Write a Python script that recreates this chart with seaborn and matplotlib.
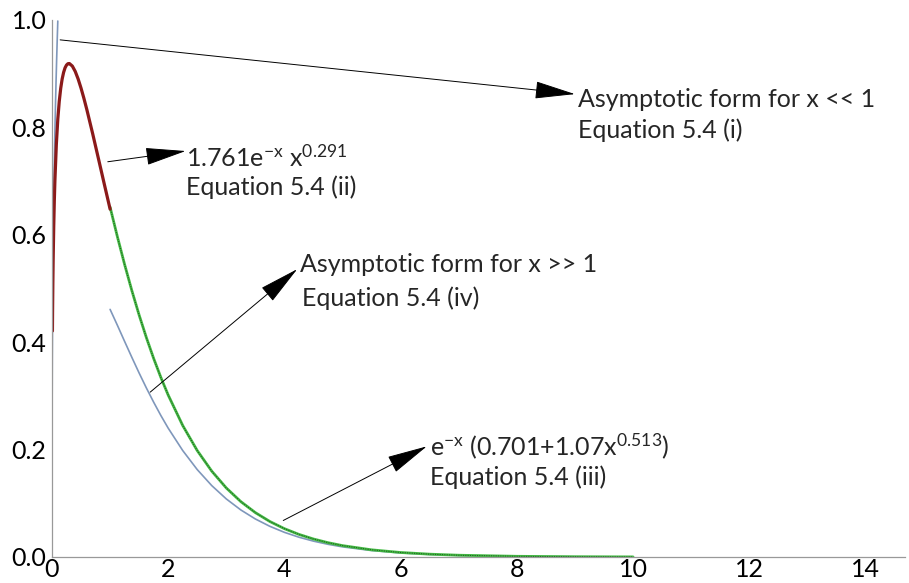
import numpy as np
import pandas as pd
import matplotlib
matplotlib.use("Agg")
import matplotlib.pyplot as plt
from matplotlib.ticker import MultipleLocator
import seaborn as sns

# Small-x asymptote, 2.15 x^(1/3)
x_small = [0.0, 0.0001, 0.0005, 0.001, 0.002, 0.005, 0.01, 0.02, 0.03, 0.04,
           0.05, 0.06, 0.07, 0.08, 0.09, 0.1]
y_small = [0.0, 0.0998, 0.1707, 0.215, 0.2709, 0.3676, 0.4632, 0.5835, 0.6680,
           0.7353, 0.7921, 0.8417, 0.8860, 0.9264, 0.9634, 0.9980]

# Fit for x < 1: 1.761 e^-x x^0.291
x_low = [0.0075, 0.01, 0.015, 0.02, 0.03, 0.04, 0.05, 0.075, 0.1, 0.125,
         0.15, 0.175, 0.2, 0.225, 0.25, 0.275, 0.3, 0.35, 0.4, 0.45, 0.5, 0.55,
         0.6, 0.7, 0.8, 0.9, 1.0]
y_low = [0.4209, 0.4564, 0.5111, 0.5529, 0.6159, 0.6631, 0.7005, 0.7688,
         0.8153, 0.8485, 0.8727, 0.8902, 0.9025, 0.9110, 0.9161, 0.9187, 0.9189,
         0.9142, 0.9042, 0.8901, 0.8730, 0.8538, 0.8330, 0.7883, 0.7415, 0.6944,
         0.6478]

# Fit for x > 1: e^-x (0.701 + 1.07 x^0.513)
x_high = [1.0, 1.125, 1.25, 1.375, 1.5, 1.625, 1.75, 1.875, 2.0, 2.25, 2.5,
          2.75, 3.0, 3.25, 3.5, 3.75, 4.0, 4.25, 4.5, 4.75, 5.0, 5.5, 6.0, 6.5,
          7.0, 8.0, 9.0, 10.0]
y_high = [0.6515, 0.5966, 0.5446, 0.4958, 0.4504, 0.4083, 0.3696, 0.3340,
          0.3015, 0.2448, 0.1981, 0.1598, 0.1285, 0.1031, 0.08261, 0.06606,
          0.05275, 0.04206, 0.03350, 0.02665, 0.02118, 0.01335, 0.008388,
          0.005256, 0.003287, 0.001278, 0.000494, 0.000190]

# Large-x asymptote, sqrt(pi/2) e^-x sqrt(x)
x_large = [1.0, 1.125, 1.25, 1.375, 1.5, 1.625, 1.75, 1.875, 2.0, 2.25, 2.5,
           2.75, 3.0, 3.25, 3.5, 3.75, 4.0, 4.25, 4.5, 4.75, 5.0, 5.5, 6.0,
           6.5, 7.0, 8.0, 9.0, 10.0]
y_large = [0.4611, 0.4316, 0.4014, 0.3716, 0.3425, 0.3146, 0.2882, 0.2632,
           0.2399, 0.1982, 0.1627, 0.1329, 0.1081, 0.08761, 0.07080, 0.05708,
           0.04591, 0.03685, 0.02954, 0.02363, 0.01888, 0.01201, 0.00761,
           0.004804, 0.003024, 0.001189, 0.000464, 0.000180]

x_ticks = [0, 2, 4, 6, 8, 10, 12, 14]
y_ticks = [0.0, 0.2, 0.4, 0.6, 0.8, 1.0]

sns.set_theme(style="white")
plt.rcParams["font.family"] = ["Lato", "DejaVu Sans"]
plt.rcParams["mathtext.fontset"] = "custom"
plt.rcParams["mathtext.rm"] = "Lato"
plt.rcParams["mathtext.it"] = "Lato:italic"

fig = plt.figure(figsize=(9.09, 5.83), dpi=100)
ax = fig.add_axes([0.0572, 0.0446, 0.9384, 0.9211])

blue = "#7f97bb"
sns.lineplot(x=x_small, y=y_small, ax=ax, color=blue, lw=1.2, sort=False,
             estimator=None)
sns.lineplot(x=x_large, y=y_large, ax=ax, color=blue, lw=1.2, sort=False,
             estimator=None)
# green fit: bright green with a fine dark dotted core
sns.lineplot(x=x_high, y=y_high, ax=ax, color="#44bb44", lw=2.0, sort=False,
             estimator=None)
sns.lineplot(x=x_high, y=y_high, ax=ax, color="#215a21", lw=0.7, sort=False,
             estimator=None, dashes=False, linestyle=(0, (1.2, 1.2)))
sns.lineplot(x=x_low, y=y_low, ax=ax, color="#8b1a1a", lw=2.3, sort=False,
             estimator=None)

ax.set_xlim(0, 14.68)
ax.set_ylim(0, 1.0)
ax.set_xticks(x_ticks)
ax.set_yticks(y_ticks)
ax.set_xticklabels([str(t) for t in x_ticks])
ax.set_yticklabels([f"{t:.1f}" for t in y_ticks])
ax.xaxis.set_minor_locator(MultipleLocator(0.5))
ax.yaxis.set_minor_locator(MultipleLocator(0.1))
ax.tick_params(axis="both", which="major", direction="in", length=5,
               width=0.8, color="#999999", labelsize=18, labelcolor="black")
ax.tick_params(axis="both", which="minor", direction="in", length=3,
               width=0.6, color="#aaaaaa")
ax.tick_params(axis="x", pad=1)
ax.tick_params(axis="y", pad=4)
for side in ["top", "right"]:
    ax.spines[side].set_visible(False)
for side in ["left", "bottom"]:
    ax.spines[side].set_color("#999999")
    ax.spines[side].set_linewidth(0.9)
ax.set_xlabel("")
ax.set_ylabel("")

arrow = dict(arrowstyle="-|>,head_length=1.3,head_width=0.28",
             mutation_scale=20, lw=0.7, color="black", shrinkA=0, shrinkB=0)

fs = 18
ax.annotate("", xy=(9.0, 0.862), xytext=(0.14, 0.963), arrowprops=arrow)
ax.text(9.06, 0.852, "Asymptotic form for x << 1", fontsize=fs, va="center")
ax.text(9.06, 0.795, "Equation 5.4 (i)", fontsize=fs, va="center")

ax.annotate("", xy=(2.3, 0.756), xytext=(0.96, 0.736), arrowprops=arrow)
ax.text(2.3, 0.745, r"1.761e$\mathregular{^{-x}}$ x$\mathregular{^{0.291}}$",
        fontsize=fs, va="center")
ax.text(2.3, 0.688, "Equation 5.4 (ii)", fontsize=fs, va="center")

ax.annotate("", xy=(4.22, 0.536), xytext=(1.69, 0.307), arrowprops=arrow)
ax.text(4.27, 0.545, "Asymptotic form for x >> 1", fontsize=fs, va="center")
ax.text(4.3, 0.482, "Equation 5.4 (iv)", fontsize=fs, va="center")

ax.annotate("", xy=(6.45, 0.206), xytext=(3.98, 0.068), arrowprops=arrow)
ax.text(6.5, 0.206,
        r"e$\mathregular{^{-x}}$ (0.701+1.07x$\mathregular{^{0.513}}$)",
        fontsize=fs, va="center")
ax.text(6.5, 0.148, "Equation 5.4 (iii)", fontsize=fs, va="center")

fig.savefig("out.png", dpi=100)
